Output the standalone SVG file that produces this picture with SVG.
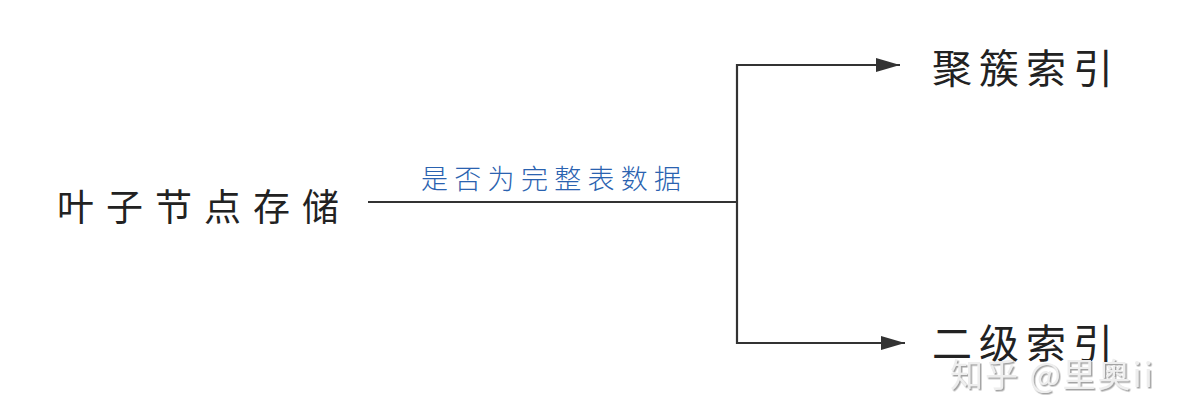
<svg xmlns="http://www.w3.org/2000/svg" width="1184" height="418" viewBox="0 0 1184 418">
<defs>
<marker id="arr" viewBox="0 0 24 14" refX="24" refY="7" markerWidth="24" markerHeight="14" markerUnits="userSpaceOnUse" orient="auto">
<path d="M0,0 L24,7 L0,14 Z" fill="#333"/>
</marker>
<filter id="shadow" x="-10%" y="-20%" width="120%" height="150%">
<feDropShadow dx="1.5" dy="1.5" stdDeviation="0.6" flood-color="#999" flood-opacity="0.9"/>
</filter>
</defs>
<style>
.node{font-family:"Noto Sans CJK SC","Noto Sans",sans-serif;font-weight:400;fill:#222;}
.lbl{font-family:"Noto Sans CJK SC","Noto Sans",sans-serif;font-weight:300;fill:#2a62b0;font-size:27px;letter-spacing:6.3px;}
.edge{fill:none;stroke:#333;stroke-width:2.2;}
.wm{font-family:"Noto Sans CJK SC","Noto Sans",sans-serif;font-size:33px;letter-spacing:2px;fill:#eee;}
</style>
<rect width="1184" height="418" fill="#fff"/>
<g id="connectors">
<path class="edge" d="M368,202 L737,202"/>
<path class="edge" d="M737,202 L737,65 L900,65" marker-end="url(#arr)"/>
<path class="edge" d="M737,202 L737,343 L905,343" marker-end="url(#arr)"/>
<text class="lbl" x="421" y="189">是否为完整表数据</text>
</g>
<g id="node-leaf">
<text class="node" x="57" y="221" font-size="37" letter-spacing="12">叶子节点存储</text>
</g>
<g id="node-clustered">
<text class="node" x="932" y="83" font-size="40" letter-spacing="7">聚簇索引</text>
</g>
<g id="node-secondary">
<text class="node" x="932" y="358" font-size="40" letter-spacing="7">二级索引</text>
</g>
<g id="watermark">
<text class="wm" x="950" y="387" filter="url(#shadow)">知乎 @里奥ii</text>
</g>
</svg>
